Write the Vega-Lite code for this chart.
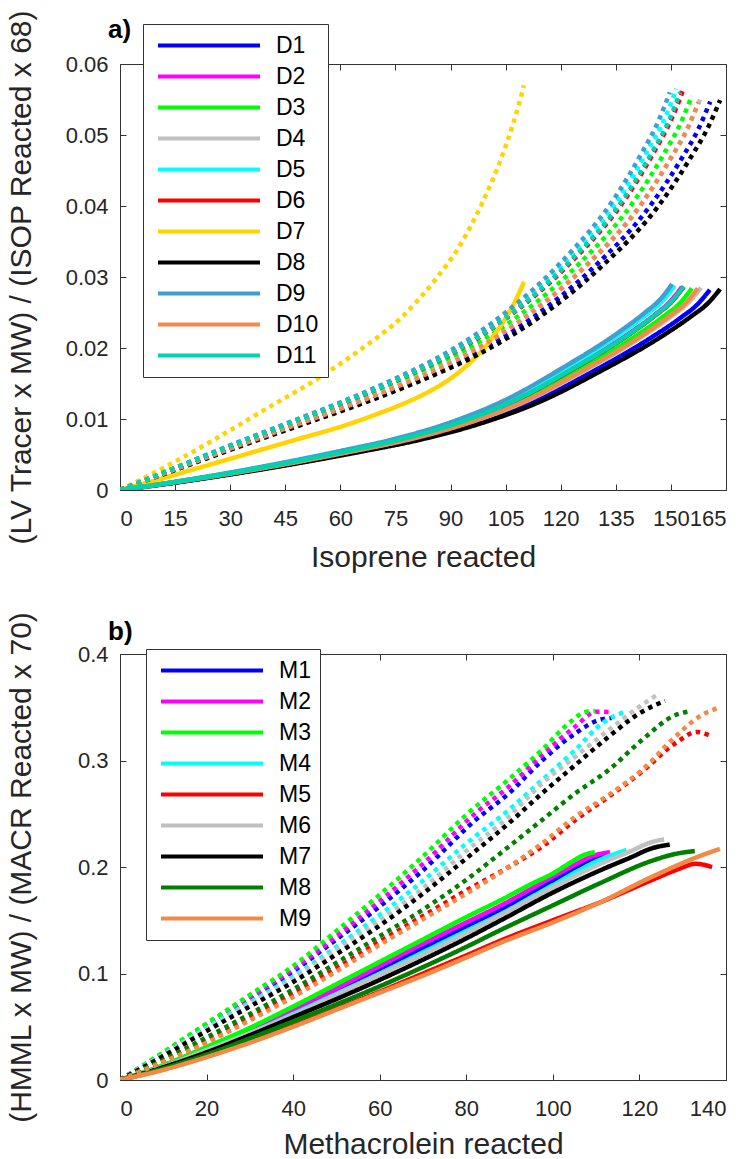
{
"$schema": "https://vega.github.io/schema/vega-lite/v6.json",
"background": "white",
"padding": {"left": 5, "top": 8, "right": 5, "bottom": 0},
"config": {
  "font": "Liberation Sans",
  "view": {"stroke": "#333333", "strokeWidth": 1},
  "axis": {"grid": false, "domain": false, "tickColor": "#333333", "tickSize": -6, "tickWidth": 1, "labelColor": "#262626", "titleColor": "#262626", "labelFontSize": 22, "titleFontSize": 30, "titleFontWeight": "normal", "labelFont": "Liberation Sans", "titleFont": "Liberation Sans"},
  "legend": {"orient": "none", "symbolType": "stroke", "symbolSize": 10404, "symbolStrokeWidth": 4, "clipHeight": 25, "rowPadding": 6, "labelFontSize": 23, "labelFont": "Liberation Sans", "labelColor": "black", "labelOffset": 14, "padding": 9, "symbolOffset": 4, "strokeColor": "#333333", "fillColor": "white", "title": null}
},
"spacing": 164,
"bounds": "flush",
"resolve": {"scale": {"color": "independent", "strokeDash": "independent"}, "legend": {"color": "independent"}},
"vconcat": [
{
  "width": 606, "height": 426,
  "title": {"text": "a)", "anchor": "start", "frame": "group", "fontSize": 26, "fontWeight": "bold", "color": "black", "dx": -12, "offset": -34},
  "data": {"name": "a"},
  "layer": [
    {"mark": {"type": "line", "strokeWidth": 4.5, "strokeCap": "butt", "interpolate": "monotone", "clip": true},
     "encoding": {
       "x": {"field": "x", "type": "quantitative", "scale": {"domain": [0, 165], "nice": false}, "axis": {"values": [0,15,30,45,60,75,90,105,120,135,150,165], "title": "Isoprene reacted", "labelPadding": 24, "titlePadding": 13}},
       "y": {"field": "y", "type": "quantitative", "scale": {"domain": [0, 0.06], "nice": false}, "axis": {"values": [0,0.01,0.02,0.03,0.04,0.05,0.06], "labelExpr": "datum.value === 0 ? '0' : format(datum.value, '.2f')", "title": "(LV Tracer x MW) / (ISOP Reacted x 68)", "labelPadding": 18, "minExtent": 54, "maxExtent": 54, "titlePadding": 30}},
       "color": {"field": "s", "type": "nominal", "scale": {"domain": ["D1","D2","D3","D4","D5","D6","D7","D8","D9","D10","D11"], "range": ["#0000FF","#FF00FF","#00FF00","#C0C0C0","#00FFFF","#FF0000","#FFD400","#000000","#3FA0D0","#F28A50","#00D4AA"]}, "legend": {"legendX": 23, "legendY": -40}},
       "strokeDash": {"field": "t", "type": "nominal", "scale": {"domain": ["solid","dotted"], "range": [[1,0],[4.5,4.5]]}, "legend": null}
     }},
    {"mark": {"type": "point", "opacity": 0},
     "encoding": {
       "x": {"field": "x", "type": "quantitative", "axis": {"orient": "top", "labels": false, "title": null, "values": [0,15,30,45,60,75,90,105,120,135,150,165]}},
       "y": {"field": "y", "type": "quantitative", "axis": {"orient": "right", "labels": false, "title": null, "values": [0,0.01,0.02,0.03,0.04,0.05,0.06]}}
     }}
  ],
  "resolve": {"axis": {"x": "independent", "y": "independent"}}
},
{
  "width": 606, "height": 426,
  "title": {"text": "b)", "anchor": "start", "frame": "group", "fontSize": 26, "fontWeight": "bold", "color": "black", "dx": -12, "offset": -34},
  "data": {"name": "b"},
  "layer": [
    {"mark": {"type": "line", "strokeWidth": 4.5, "strokeCap": "butt", "interpolate": "monotone", "clip": true},
     "encoding": {
       "x": {"field": "x", "type": "quantitative", "scale": {"domain": [0, 140], "nice": false}, "axis": {"values": [0,20,40,60,80,100,120,140], "title": "Methacrolein reacted", "labelPadding": 24, "titlePadding": 10}},
       "y": {"field": "y", "type": "quantitative", "scale": {"domain": [0, 0.4], "nice": false}, "axis": {"values": [0,0.1,0.2,0.3,0.4], "labelExpr": "datum.value === 0 ? '0' : format(datum.value, '.1f')", "title": "(HMML x MW) / (MACR Reacted x 70)", "labelPadding": 18, "minExtent": 54, "maxExtent": 54, "titlePadding": 30}},
       "color": {"field": "s", "type": "nominal", "scale": {"domain": ["M1","M2","M3","M4","M5","M6","M7","M8","M9"], "range": ["#0000FF","#FF00FF","#00FF00","#00FFFF","#FF0000","#C0C0C0","#000000","#007F00","#F28A46"]}, "legend": {"legendX": 26, "legendY": -5}},
       "strokeDash": {"field": "t", "type": "nominal", "scale": {"domain": ["solid","dotted"], "range": [[1,0],[4.5,4.5]]}, "legend": null}
     }},
    {"mark": {"type": "point", "opacity": 0},
     "encoding": {
       "x": {"field": "x", "type": "quantitative", "axis": {"orient": "top", "labels": false, "title": null, "values": [0,20,40,60,80,100,120,140]}},
       "y": {"field": "y", "type": "quantitative", "axis": {"orient": "right", "labels": false, "title": null, "values": [0,0.1,0.2,0.3,0.4]}}
     }}
  ],
  "resolve": {"axis": {"x": "independent", "y": "independent"}}
}
],
"datasets": {
"a": [
{"s":"D1","t":"solid","x":0,"y":0},{"s":"D1","t":"solid","x":16.1,"y":0.00113},{"s":"D1","t":"solid","x":32.1,"y":0.0024},{"s":"D1","t":"solid","x":48.2,"y":0.00381},{"s":"D1","t":"solid","x":64.2,"y":0.00536},{"s":"D1","t":"solid","x":80.3,"y":0.00705},{"s":"D1","t":"solid","x":96.4,"y":0.00931},{"s":"D1","t":"solid","x":112.4,"y":0.01241},{"s":"D1","t":"solid","x":128.5,"y":0.01664},{"s":"D1","t":"solid","x":144.5,"y":0.02143},{"s":"D1","t":"solid","x":152.6,"y":0.02425},{"s":"D1","t":"solid","x":157.4,"y":0.02623},{"s":"D1","t":"solid","x":160.6,"y":0.0282},
{"s":"D1","t":"dotted","x":0,"y":0},{"s":"D1","t":"dotted","x":16.1,"y":0.00306},{"s":"D1","t":"dotted","x":32.1,"y":0.00613},{"s":"D1","t":"dotted","x":48.2,"y":0.00908},{"s":"D1","t":"dotted","x":64.3,"y":0.01203},{"s":"D1","t":"dotted","x":80.4,"y":0.01532},{"s":"D1","t":"dotted","x":96.4,"y":0.01915},{"s":"D1","t":"dotted","x":112.5,"y":0.02434},{"s":"D1","t":"dotted","x":128.6,"y":0.03118},{"s":"D1","t":"dotted","x":144.6,"y":0.0402},{"s":"D1","t":"dotted","x":152.7,"y":0.0465},{"s":"D1","t":"dotted","x":157.5,"y":0.05087},{"s":"D1","t":"dotted","x":160.7,"y":0.0547},
{"s":"D2","t":"solid","x":0,"y":0},{"s":"D2","t":"solid","x":15.3,"y":0.00114},{"s":"D2","t":"solid","x":30.6,"y":0.00243},{"s":"D2","t":"solid","x":45.9,"y":0.00386},{"s":"D2","t":"solid","x":61.2,"y":0.00543},{"s":"D2","t":"solid","x":76.5,"y":0.00715},{"s":"D2","t":"solid","x":91.8,"y":0.00944},{"s":"D2","t":"solid","x":107.1,"y":0.01258},{"s":"D2","t":"solid","x":122.4,"y":0.01687},{"s":"D2","t":"solid","x":137.7,"y":0.02174},{"s":"D2","t":"solid","x":145.4,"y":0.0246},{"s":"D2","t":"solid","x":149.9,"y":0.0266},{"s":"D2","t":"solid","x":153.0,"y":0.0286},
{"s":"D2","t":"dotted","x":0,"y":0},{"s":"D2","t":"dotted","x":15.3,"y":0.00315},{"s":"D2","t":"dotted","x":30.6,"y":0.00629},{"s":"D2","t":"dotted","x":45.9,"y":0.00933},{"s":"D2","t":"dotted","x":61.2,"y":0.01236},{"s":"D2","t":"dotted","x":76.5,"y":0.01574},{"s":"D2","t":"dotted","x":91.8,"y":0.01967},{"s":"D2","t":"dotted","x":107.1,"y":0.02501},{"s":"D2","t":"dotted","x":122.4,"y":0.03203},{"s":"D2","t":"dotted","x":137.7,"y":0.04131},{"s":"D2","t":"dotted","x":145.4,"y":0.04777},{"s":"D2","t":"dotted","x":149.9,"y":0.05227},{"s":"D2","t":"dotted","x":153.0,"y":0.0562},
{"s":"D3","t":"solid","x":0,"y":0},{"s":"D3","t":"solid","x":15.6,"y":0.00114},{"s":"D3","t":"solid","x":31.1,"y":0.00241},{"s":"D3","t":"solid","x":46.7,"y":0.00383},{"s":"D3","t":"solid","x":62.3,"y":0.0054},{"s":"D3","t":"solid","x":77.9,"y":0.0071},{"s":"D3","t":"solid","x":93.4,"y":0.00937},{"s":"D3","t":"solid","x":109.0,"y":0.0125},{"s":"D3","t":"solid","x":124.6,"y":0.01676},{"s":"D3","t":"solid","x":140.1,"y":0.02158},{"s":"D3","t":"solid","x":147.9,"y":0.02442},{"s":"D3","t":"solid","x":152.6,"y":0.02641},{"s":"D3","t":"solid","x":155.7,"y":0.0284},
{"s":"D3","t":"dotted","x":0,"y":0},{"s":"D3","t":"dotted","x":15.6,"y":0.00311},{"s":"D3","t":"dotted","x":31.1,"y":0.00622},{"s":"D3","t":"dotted","x":46.7,"y":0.00921},{"s":"D3","t":"dotted","x":62.3,"y":0.01221},{"s":"D3","t":"dotted","x":77.9,"y":0.01554},{"s":"D3","t":"dotted","x":93.4,"y":0.01943},{"s":"D3","t":"dotted","x":109.0,"y":0.0247},{"s":"D3","t":"dotted","x":124.6,"y":0.03164},{"s":"D3","t":"dotted","x":140.1,"y":0.04079},{"s":"D3","t":"dotted","x":147.9,"y":0.04718},{"s":"D3","t":"dotted","x":152.6,"y":0.05162},{"s":"D3","t":"dotted","x":155.7,"y":0.0555},
{"s":"D4","t":"solid","x":0,"y":0},{"s":"D4","t":"solid","x":15.8,"y":0.00114},{"s":"D4","t":"solid","x":31.6,"y":0.00242},{"s":"D4","t":"solid","x":47.5,"y":0.00385},{"s":"D4","t":"solid","x":63.3,"y":0.00542},{"s":"D4","t":"solid","x":79.1,"y":0.00713},{"s":"D4","t":"solid","x":94.9,"y":0.00941},{"s":"D4","t":"solid","x":110.7,"y":0.01254},{"s":"D4","t":"solid","x":126.6,"y":0.01682},{"s":"D4","t":"solid","x":142.4,"y":0.02166},{"s":"D4","t":"solid","x":150.3,"y":0.02451},{"s":"D4","t":"solid","x":155.0,"y":0.02651},{"s":"D4","t":"solid","x":158.2,"y":0.0285},
{"s":"D4","t":"dotted","x":0,"y":0},{"s":"D4","t":"dotted","x":15.8,"y":0.00309},{"s":"D4","t":"dotted","x":31.6,"y":0.00617},{"s":"D4","t":"dotted","x":47.4,"y":0.00915},{"s":"D4","t":"dotted","x":63.2,"y":0.01212},{"s":"D4","t":"dotted","x":79.0,"y":0.01543},{"s":"D4","t":"dotted","x":94.8,"y":0.01929},{"s":"D4","t":"dotted","x":110.6,"y":0.02452},{"s":"D4","t":"dotted","x":126.4,"y":0.03141},{"s":"D4","t":"dotted","x":142.2,"y":0.0405},{"s":"D4","t":"dotted","x":150.1,"y":0.04684},{"s":"D4","t":"dotted","x":154.8,"y":0.05124},{"s":"D4","t":"dotted","x":158.0,"y":0.0551},
{"s":"D5","t":"solid","x":0,"y":0},{"s":"D5","t":"solid","x":15.1,"y":0.00115},{"s":"D5","t":"solid","x":30.2,"y":0.00245},{"s":"D5","t":"solid","x":45.3,"y":0.00389},{"s":"D5","t":"solid","x":60.4,"y":0.00547},{"s":"D5","t":"solid","x":75.5,"y":0.0072},{"s":"D5","t":"solid","x":90.6,"y":0.0095},{"s":"D5","t":"solid","x":105.7,"y":0.01267},{"s":"D5","t":"solid","x":120.8,"y":0.01699},{"s":"D5","t":"solid","x":135.9,"y":0.02189},{"s":"D5","t":"solid","x":143.5,"y":0.02477},{"s":"D5","t":"solid","x":148.0,"y":0.02678},{"s":"D5","t":"solid","x":151.0,"y":0.0288},
{"s":"D5","t":"dotted","x":0,"y":0},{"s":"D5","t":"dotted","x":15.2,"y":0.00316},{"s":"D5","t":"dotted","x":30.3,"y":0.00633},{"s":"D5","t":"dotted","x":45.5,"y":0.00938},{"s":"D5","t":"dotted","x":60.6,"y":0.01243},{"s":"D5","t":"dotted","x":75.8,"y":0.01582},{"s":"D5","t":"dotted","x":90.9,"y":0.01978},{"s":"D5","t":"dotted","x":106.1,"y":0.02514},{"s":"D5","t":"dotted","x":121.2,"y":0.0322},{"s":"D5","t":"dotted","x":136.4,"y":0.04153},{"s":"D5","t":"dotted","x":143.9,"y":0.04803},{"s":"D5","t":"dotted","x":148.5,"y":0.05255},{"s":"D5","t":"dotted","x":151.5,"y":0.0565},
{"s":"D6","t":"solid","x":0,"y":0},{"s":"D6","t":"solid","x":15.4,"y":0.00114},{"s":"D6","t":"solid","x":30.7,"y":0.00243},{"s":"D6","t":"solid","x":46.1,"y":0.00386},{"s":"D6","t":"solid","x":61.4,"y":0.00543},{"s":"D6","t":"solid","x":76.8,"y":0.00715},{"s":"D6","t":"solid","x":92.1,"y":0.00944},{"s":"D6","t":"solid","x":107.5,"y":0.01258},{"s":"D6","t":"solid","x":122.8,"y":0.01687},{"s":"D6","t":"solid","x":138.2,"y":0.02174},{"s":"D6","t":"solid","x":145.8,"y":0.0246},{"s":"D6","t":"solid","x":150.4,"y":0.0266},{"s":"D6","t":"solid","x":153.5,"y":0.0286},
{"s":"D6","t":"dotted","x":0,"y":0},{"s":"D6","t":"dotted","x":15.3,"y":0.00314},{"s":"D6","t":"dotted","x":30.6,"y":0.00628},{"s":"D6","t":"dotted","x":46.0,"y":0.00931},{"s":"D6","t":"dotted","x":61.3,"y":0.01234},{"s":"D6","t":"dotted","x":76.6,"y":0.01571},{"s":"D6","t":"dotted","x":91.9,"y":0.01964},{"s":"D6","t":"dotted","x":107.2,"y":0.02496},{"s":"D6","t":"dotted","x":122.6,"y":0.03198},{"s":"D6","t":"dotted","x":137.9,"y":0.04123},{"s":"D6","t":"dotted","x":145.5,"y":0.04769},{"s":"D6","t":"dotted","x":150.1,"y":0.05217},{"s":"D6","t":"dotted","x":153.2,"y":0.0561},
{"s":"D7","t":"solid","x":0,"y":0},{"s":"D7","t":"solid","x":10,"y":0.0014},{"s":"D7","t":"solid","x":20,"y":0.0029},{"s":"D7","t":"solid","x":30,"y":0.0044},{"s":"D7","t":"solid","x":40,"y":0.0059},{"s":"D7","t":"solid","x":50,"y":0.0074},{"s":"D7","t":"solid","x":60,"y":0.0089},{"s":"D7","t":"solid","x":70,"y":0.0107},{"s":"D7","t":"solid","x":80,"y":0.0128},{"s":"D7","t":"solid","x":85,"y":0.0141},{"s":"D7","t":"solid","x":90,"y":0.0157},{"s":"D7","t":"solid","x":95,"y":0.0178},{"s":"D7","t":"solid","x":100,"y":0.0205},{"s":"D7","t":"solid","x":104,"y":0.0234},{"s":"D7","t":"solid","x":107,"y":0.026},{"s":"D7","t":"solid","x":110,"y":0.0293},
{"s":"D7","t":"dotted","x":0,"y":0},{"s":"D7","t":"dotted","x":15,"y":0.004},{"s":"D7","t":"dotted","x":27,"y":0.0075},{"s":"D7","t":"dotted","x":40,"y":0.0115},{"s":"D7","t":"dotted","x":54.5,"y":0.0159},{"s":"D7","t":"dotted","x":65,"y":0.0196},{"s":"D7","t":"dotted","x":76.8,"y":0.0244},{"s":"D7","t":"dotted","x":85.8,"y":0.0296},{"s":"D7","t":"dotted","x":92,"y":0.034},{"s":"D7","t":"dotted","x":98.6,"y":0.0404},{"s":"D7","t":"dotted","x":104,"y":0.047},{"s":"D7","t":"dotted","x":107,"y":0.0515},{"s":"D7","t":"dotted","x":110,"y":0.057},
{"s":"D8","t":"solid","x":0,"y":0},{"s":"D8","t":"solid","x":16.3,"y":0.00113},{"s":"D8","t":"solid","x":32.7,"y":0.00241},{"s":"D8","t":"solid","x":49.0,"y":0.00382},{"s":"D8","t":"solid","x":65.4,"y":0.00538},{"s":"D8","t":"solid","x":81.7,"y":0.00708},{"s":"D8","t":"solid","x":98.0,"y":0.00934},{"s":"D8","t":"solid","x":114.4,"y":0.01245},{"s":"D8","t":"solid","x":130.7,"y":0.0167},{"s":"D8","t":"solid","x":147.1,"y":0.02151},{"s":"D8","t":"solid","x":155.2,"y":0.02434},{"s":"D8","t":"solid","x":160.1,"y":0.02632},{"s":"D8","t":"solid","x":163.4,"y":0.0283},
{"s":"D8","t":"dotted","x":0,"y":0},{"s":"D8","t":"dotted","x":16.3,"y":0.00307},{"s":"D8","t":"dotted","x":32.7,"y":0.00615},{"s":"D8","t":"dotted","x":49.0,"y":0.00911},{"s":"D8","t":"dotted","x":65.4,"y":0.01208},{"s":"D8","t":"dotted","x":81.7,"y":0.01537},{"s":"D8","t":"dotted","x":98.0,"y":0.01922},{"s":"D8","t":"dotted","x":114.4,"y":0.02443},{"s":"D8","t":"dotted","x":130.7,"y":0.03129},{"s":"D8","t":"dotted","x":147.1,"y":0.04035},{"s":"D8","t":"dotted","x":155.2,"y":0.04667},{"s":"D8","t":"dotted","x":160.1,"y":0.05106},{"s":"D8","t":"dotted","x":163.4,"y":0.0549},
{"s":"D9","t":"solid","x":0,"y":0},{"s":"D9","t":"solid","x":15.0,"y":0.00116},{"s":"D9","t":"solid","x":30.1,"y":0.00247},{"s":"D9","t":"solid","x":45.1,"y":0.00392},{"s":"D9","t":"solid","x":60.1,"y":0.00551},{"s":"D9","t":"solid","x":75.2,"y":0.00725},{"s":"D9","t":"solid","x":90.2,"y":0.00957},{"s":"D9","t":"solid","x":105.2,"y":0.01276},{"s":"D9","t":"solid","x":120.2,"y":0.01711},{"s":"D9","t":"solid","x":135.3,"y":0.02204},{"s":"D9","t":"solid","x":142.8,"y":0.02494},{"s":"D9","t":"solid","x":147.3,"y":0.02697},{"s":"D9","t":"solid","x":150.3,"y":0.029},
{"s":"D9","t":"dotted","x":0,"y":0},{"s":"D9","t":"dotted","x":15.0,"y":0.00314},{"s":"D9","t":"dotted","x":29.9,"y":0.00627},{"s":"D9","t":"dotted","x":44.9,"y":0.0093},{"s":"D9","t":"dotted","x":59.9,"y":0.01232},{"s":"D9","t":"dotted","x":74.9,"y":0.01568},{"s":"D9","t":"dotted","x":89.8,"y":0.0196},{"s":"D9","t":"dotted","x":104.8,"y":0.02492},{"s":"D9","t":"dotted","x":119.8,"y":0.03192},{"s":"D9","t":"dotted","x":134.7,"y":0.04116},{"s":"D9","t":"dotted","x":142.2,"y":0.0476},{"s":"D9","t":"dotted","x":146.7,"y":0.05208},{"s":"D9","t":"dotted","x":149.7,"y":0.056},
{"s":"D10","t":"solid","x":0,"y":0},{"s":"D10","t":"solid","x":15.7,"y":0.00114},{"s":"D10","t":"solid","x":31.5,"y":0.00241},{"s":"D10","t":"solid","x":47.2,"y":0.00383},{"s":"D10","t":"solid","x":62.9,"y":0.0054},{"s":"D10","t":"solid","x":78.7,"y":0.0071},{"s":"D10","t":"solid","x":94.4,"y":0.00937},{"s":"D10","t":"solid","x":110.1,"y":0.0125},{"s":"D10","t":"solid","x":125.8,"y":0.01676},{"s":"D10","t":"solid","x":141.6,"y":0.02158},{"s":"D10","t":"solid","x":149.4,"y":0.02442},{"s":"D10","t":"solid","x":154.2,"y":0.02641},{"s":"D10","t":"solid","x":157.3,"y":0.0284},
{"s":"D10","t":"dotted","x":0,"y":0},{"s":"D10","t":"dotted","x":15.8,"y":0.00306},{"s":"D10","t":"dotted","x":31.5,"y":0.00612},{"s":"D10","t":"dotted","x":47.3,"y":0.00906},{"s":"D10","t":"dotted","x":63.0,"y":0.01201},{"s":"D10","t":"dotted","x":78.8,"y":0.01529},{"s":"D10","t":"dotted","x":94.5,"y":0.01911},{"s":"D10","t":"dotted","x":110.3,"y":0.0243},{"s":"D10","t":"dotted","x":126.0,"y":0.03112},{"s":"D10","t":"dotted","x":141.8,"y":0.04013},{"s":"D10","t":"dotted","x":149.6,"y":0.04641},{"s":"D10","t":"dotted","x":154.4,"y":0.05078},{"s":"D10","t":"dotted","x":157.5,"y":0.0546},
{"s":"D11","t":"solid","x":0,"y":0},{"s":"D11","t":"solid","x":15.4,"y":0.00115},{"s":"D11","t":"solid","x":30.7,"y":0.00244},{"s":"D11","t":"solid","x":46.1,"y":0.00387},{"s":"D11","t":"solid","x":61.4,"y":0.00545},{"s":"D11","t":"solid","x":76.8,"y":0.00718},{"s":"D11","t":"solid","x":92.1,"y":0.00947},{"s":"D11","t":"solid","x":107.5,"y":0.01263},{"s":"D11","t":"solid","x":122.8,"y":0.01693},{"s":"D11","t":"solid","x":138.2,"y":0.02181},{"s":"D11","t":"solid","x":145.8,"y":0.02468},{"s":"D11","t":"solid","x":150.4,"y":0.02669},{"s":"D11","t":"solid","x":153.5,"y":0.0287},
{"s":"D11","t":"dotted","x":0,"y":0},{"s":"D11","t":"dotted","x":15.3,"y":0.00314},{"s":"D11","t":"dotted","x":30.5,"y":0.00627},{"s":"D11","t":"dotted","x":45.8,"y":0.0093},{"s":"D11","t":"dotted","x":61.0,"y":0.01232},{"s":"D11","t":"dotted","x":76.3,"y":0.01568},{"s":"D11","t":"dotted","x":91.5,"y":0.0196},{"s":"D11","t":"dotted","x":106.8,"y":0.02492},{"s":"D11","t":"dotted","x":122.0,"y":0.03192},{"s":"D11","t":"dotted","x":137.3,"y":0.04116},{"s":"D11","t":"dotted","x":144.9,"y":0.0476},{"s":"D11","t":"dotted","x":149.5,"y":0.05208},{"s":"D11","t":"dotted","x":152.5,"y":0.056}
],
"b": [
{"s":"M1","t":"solid","x":0,"y":0},{"s":"M1","t":"solid","x":10,"y":0.013},{"s":"M1","t":"solid","x":20,"y":0.029},{"s":"M1","t":"solid","x":30,"y":0.046},{"s":"M1","t":"solid","x":40,"y":0.064},{"s":"M1","t":"solid","x":50,"y":0.084},{"s":"M1","t":"solid","x":60,"y":0.104},{"s":"M1","t":"solid","x":70,"y":0.124},{"s":"M1","t":"solid","x":80,"y":0.144},{"s":"M1","t":"solid","x":88,"y":0.16},{"s":"M1","t":"solid","x":100,"y":0.187},{"s":"M1","t":"solid","x":106,"y":0.201},{"s":"M1","t":"solid","x":112,"y":0.212},
{"s":"M1","t":"dotted","x":0,"y":0},{"s":"M1","t":"dotted","x":10,"y":0.025},{"s":"M1","t":"dotted","x":20,"y":0.051},{"s":"M1","t":"dotted","x":30,"y":0.076},{"s":"M1","t":"dotted","x":40,"y":0.102},{"s":"M1","t":"dotted","x":50,"y":0.132},{"s":"M1","t":"dotted","x":60,"y":0.163},{"s":"M1","t":"dotted","x":70,"y":0.197},{"s":"M1","t":"dotted","x":82.1,"y":0.244},{"s":"M1","t":"dotted","x":89.8,"y":0.269},{"s":"M1","t":"dotted","x":97.5,"y":0.3},{"s":"M1","t":"dotted","x":105.2,"y":0.3255},{"s":"M1","t":"dotted","x":110.6,"y":0.338},{"s":"M1","t":"dotted","x":113.6,"y":0.34},
{"s":"M2","t":"solid","x":0,"y":0},{"s":"M2","t":"solid","x":10,"y":0.0135},{"s":"M2","t":"solid","x":20,"y":0.03},{"s":"M2","t":"solid","x":30,"y":0.047},{"s":"M2","t":"solid","x":40,"y":0.066},{"s":"M2","t":"solid","x":50,"y":0.086},{"s":"M2","t":"solid","x":60,"y":0.107},{"s":"M2","t":"solid","x":70,"y":0.128},{"s":"M2","t":"solid","x":80,"y":0.148},{"s":"M2","t":"solid","x":88,"y":0.164},{"s":"M2","t":"solid","x":100,"y":0.191},{"s":"M2","t":"solid","x":105,"y":0.202},{"s":"M2","t":"solid","x":109,"y":0.21},{"s":"M2","t":"solid","x":113.2,"y":0.214},
{"s":"M2","t":"dotted","x":0,"y":0},{"s":"M2","t":"dotted","x":10,"y":0.0255},{"s":"M2","t":"dotted","x":20,"y":0.052},{"s":"M2","t":"dotted","x":30,"y":0.078},{"s":"M2","t":"dotted","x":40,"y":0.104},{"s":"M2","t":"dotted","x":50,"y":0.135},{"s":"M2","t":"dotted","x":60,"y":0.168},{"s":"M2","t":"dotted","x":70,"y":0.203},{"s":"M2","t":"dotted","x":82.1,"y":0.2504},{"s":"M2","t":"dotted","x":89.8,"y":0.2754},{"s":"M2","t":"dotted","x":97.5,"y":0.305},{"s":"M2","t":"dotted","x":105.2,"y":0.332},{"s":"M2","t":"dotted","x":110,"y":0.3458},{"s":"M2","t":"dotted","x":113,"y":0.3455},
{"s":"M3","t":"solid","x":0,"y":0},{"s":"M3","t":"solid","x":10,"y":0.014},{"s":"M3","t":"solid","x":20,"y":0.031},{"s":"M3","t":"solid","x":30,"y":0.049},{"s":"M3","t":"solid","x":40,"y":0.069},{"s":"M3","t":"solid","x":50,"y":0.09},{"s":"M3","t":"solid","x":60,"y":0.111},{"s":"M3","t":"solid","x":70,"y":0.132},{"s":"M3","t":"solid","x":80,"y":0.153},{"s":"M3","t":"solid","x":88,"y":0.169},{"s":"M3","t":"solid","x":95,"y":0.184},{"s":"M3","t":"solid","x":100,"y":0.194},{"s":"M3","t":"solid","x":104,"y":0.204},{"s":"M3","t":"solid","x":107,"y":0.211},{"s":"M3","t":"solid","x":109.7,"y":0.214},
{"s":"M3","t":"dotted","x":0,"y":0},{"s":"M3","t":"dotted","x":10,"y":0.026},{"s":"M3","t":"dotted","x":20,"y":0.053},{"s":"M3","t":"dotted","x":30,"y":0.08},{"s":"M3","t":"dotted","x":40,"y":0.107},{"s":"M3","t":"dotted","x":50,"y":0.14},{"s":"M3","t":"dotted","x":60,"y":0.174},{"s":"M3","t":"dotted","x":70,"y":0.21},{"s":"M3","t":"dotted","x":80,"y":0.249},{"s":"M3","t":"dotted","x":90,"y":0.283},{"s":"M3","t":"dotted","x":97.5,"y":0.31},{"s":"M3","t":"dotted","x":103.7,"y":0.335},{"s":"M3","t":"dotted","x":107.5,"y":0.3455},{"s":"M3","t":"dotted","x":109.7,"y":0.3465},
{"s":"M4","t":"solid","x":0,"y":0},{"s":"M4","t":"solid","x":10,"y":0.0125},{"s":"M4","t":"solid","x":20,"y":0.028},{"s":"M4","t":"solid","x":30,"y":0.044},{"s":"M4","t":"solid","x":40,"y":0.062},{"s":"M4","t":"solid","x":50,"y":0.081},{"s":"M4","t":"solid","x":60,"y":0.1},{"s":"M4","t":"solid","x":70,"y":0.12},{"s":"M4","t":"solid","x":80,"y":0.14},{"s":"M4","t":"solid","x":88,"y":0.156},{"s":"M4","t":"solid","x":100,"y":0.183},{"s":"M4","t":"solid","x":111,"y":0.207},{"s":"M4","t":"solid","x":117,"y":0.216},
{"s":"M4","t":"dotted","x":0,"y":0},{"s":"M4","t":"dotted","x":10,"y":0.024},{"s":"M4","t":"dotted","x":20,"y":0.049},{"s":"M4","t":"dotted","x":30,"y":0.073},{"s":"M4","t":"dotted","x":40,"y":0.097},{"s":"M4","t":"dotted","x":50,"y":0.125},{"s":"M4","t":"dotted","x":60,"y":0.155},{"s":"M4","t":"dotted","x":70,"y":0.187},{"s":"M4","t":"dotted","x":80,"y":0.222},{"s":"M4","t":"dotted","x":89.8,"y":0.2535},{"s":"M4","t":"dotted","x":97.5,"y":0.2817},{"s":"M4","t":"dotted","x":105.2,"y":0.31},{"s":"M4","t":"dotted","x":111.4,"y":0.335},{"s":"M4","t":"dotted","x":116.4,"y":0.3455},
{"s":"M5","t":"solid","x":0,"y":0},{"s":"M5","t":"solid","x":10,"y":0.01},{"s":"M5","t":"solid","x":20,"y":0.022},{"s":"M5","t":"solid","x":30,"y":0.036},{"s":"M5","t":"solid","x":40,"y":0.051},{"s":"M5","t":"solid","x":50,"y":0.067},{"s":"M5","t":"solid","x":60,"y":0.083},{"s":"M5","t":"solid","x":70,"y":0.1},{"s":"M5","t":"solid","x":80,"y":0.117},{"s":"M5","t":"solid","x":88,"y":0.131},{"s":"M5","t":"solid","x":100,"y":0.15},{"s":"M5","t":"solid","x":111,"y":0.167},{"s":"M5","t":"solid","x":123,"y":0.188},{"s":"M5","t":"solid","x":129,"y":0.198},{"s":"M5","t":"solid","x":133,"y":0.203},{"s":"M5","t":"solid","x":136.8,"y":0.2},
{"s":"M5","t":"dotted","x":0,"y":0},{"s":"M5","t":"dotted","x":10,"y":0.018},{"s":"M5","t":"dotted","x":20,"y":0.037},{"s":"M5","t":"dotted","x":30,"y":0.058},{"s":"M5","t":"dotted","x":40,"y":0.081},{"s":"M5","t":"dotted","x":50,"y":0.105},{"s":"M5","t":"dotted","x":60,"y":0.13},{"s":"M5","t":"dotted","x":70,"y":0.154},{"s":"M5","t":"dotted","x":80,"y":0.178},{"s":"M5","t":"dotted","x":89.8,"y":0.2},{"s":"M5","t":"dotted","x":97.5,"y":0.2191},{"s":"M5","t":"dotted","x":105.2,"y":0.2441},{"s":"M5","t":"dotted","x":112.9,"y":0.266},{"s":"M5","t":"dotted","x":120.6,"y":0.2895},{"s":"M5","t":"dotted","x":128.3,"y":0.3162},{"s":"M5","t":"dotted","x":133.3,"y":0.3268},{"s":"M5","t":"dotted","x":136.1,"y":0.3237},
{"s":"M6","t":"solid","x":0,"y":0},{"s":"M6","t":"solid","x":10,"y":0.0125},{"s":"M6","t":"solid","x":20,"y":0.028},{"s":"M6","t":"solid","x":30,"y":0.044},{"s":"M6","t":"solid","x":40,"y":0.061},{"s":"M6","t":"solid","x":50,"y":0.08},{"s":"M6","t":"solid","x":60,"y":0.099},{"s":"M6","t":"solid","x":70,"y":0.118},{"s":"M6","t":"solid","x":80,"y":0.138},{"s":"M6","t":"solid","x":88,"y":0.155},{"s":"M6","t":"solid","x":100,"y":0.181},{"s":"M6","t":"solid","x":111,"y":0.203},{"s":"M6","t":"solid","x":118,"y":0.215},{"s":"M6","t":"solid","x":122.9,"y":0.2235},{"s":"M6","t":"solid","x":125.7,"y":0.226},
{"s":"M6","t":"dotted","x":0,"y":0},{"s":"M6","t":"dotted","x":10,"y":0.0235},{"s":"M6","t":"dotted","x":20,"y":0.048},{"s":"M6","t":"dotted","x":30,"y":0.071},{"s":"M6","t":"dotted","x":40,"y":0.095},{"s":"M6","t":"dotted","x":50,"y":0.122},{"s":"M6","t":"dotted","x":60,"y":0.15},{"s":"M6","t":"dotted","x":70,"y":0.18},{"s":"M6","t":"dotted","x":80,"y":0.215},{"s":"M6","t":"dotted","x":89.8,"y":0.2473},{"s":"M6","t":"dotted","x":97.5,"y":0.2786},{"s":"M6","t":"dotted","x":105.2,"y":0.3036},{"s":"M6","t":"dotted","x":113.4,"y":0.3302},{"s":"M6","t":"dotted","x":121.1,"y":0.3537},{"s":"M6","t":"dotted","x":124.7,"y":0.3633},
{"s":"M7","t":"solid","x":0,"y":0},{"s":"M7","t":"solid","x":10,"y":0.012},{"s":"M7","t":"solid","x":20,"y":0.026},{"s":"M7","t":"solid","x":30,"y":0.042},{"s":"M7","t":"solid","x":40,"y":0.059},{"s":"M7","t":"solid","x":50,"y":0.076},{"s":"M7","t":"solid","x":60,"y":0.094},{"s":"M7","t":"solid","x":70,"y":0.113},{"s":"M7","t":"solid","x":80,"y":0.133},{"s":"M7","t":"solid","x":88,"y":0.15},{"s":"M7","t":"solid","x":100,"y":0.176},{"s":"M7","t":"solid","x":111,"y":0.197},{"s":"M7","t":"solid","x":118,"y":0.209},{"s":"M7","t":"solid","x":122.9,"y":0.2176},{"s":"M7","t":"solid","x":127,"y":0.221},
{"s":"M7","t":"dotted","x":0,"y":0},{"s":"M7","t":"dotted","x":10,"y":0.0225},{"s":"M7","t":"dotted","x":20,"y":0.046},{"s":"M7","t":"dotted","x":30,"y":0.069},{"s":"M7","t":"dotted","x":40,"y":0.092},{"s":"M7","t":"dotted","x":50,"y":0.118},{"s":"M7","t":"dotted","x":60,"y":0.145},{"s":"M7","t":"dotted","x":70,"y":0.175},{"s":"M7","t":"dotted","x":80,"y":0.208},{"s":"M7","t":"dotted","x":89.8,"y":0.241},{"s":"M7","t":"dotted","x":97.5,"y":0.2692},{"s":"M7","t":"dotted","x":105.2,"y":0.2958},{"s":"M7","t":"dotted","x":112.9,"y":0.3224},{"s":"M7","t":"dotted","x":120.6,"y":0.3458},{"s":"M7","t":"dotted","x":125.9,"y":0.356},
{"s":"M8","t":"solid","x":0,"y":0},{"s":"M8","t":"solid","x":10,"y":0.011},{"s":"M8","t":"solid","x":20,"y":0.024},{"s":"M8","t":"solid","x":30,"y":0.039},{"s":"M8","t":"solid","x":40,"y":0.055},{"s":"M8","t":"solid","x":50,"y":0.071},{"s":"M8","t":"solid","x":60,"y":0.088},{"s":"M8","t":"solid","x":70,"y":0.106},{"s":"M8","t":"solid","x":80,"y":0.125},{"s":"M8","t":"solid","x":88,"y":0.141},{"s":"M8","t":"solid","x":100,"y":0.164},{"s":"M8","t":"solid","x":111,"y":0.185},{"s":"M8","t":"solid","x":123,"y":0.206},{"s":"M8","t":"solid","x":128,"y":0.212},{"s":"M8","t":"solid","x":132.8,"y":0.215},
{"s":"M8","t":"dotted","x":0,"y":0},{"s":"M8","t":"dotted","x":10,"y":0.019},{"s":"M8","t":"dotted","x":20,"y":0.04},{"s":"M8","t":"dotted","x":30,"y":0.062},{"s":"M8","t":"dotted","x":40,"y":0.085},{"s":"M8","t":"dotted","x":50,"y":0.11},{"s":"M8","t":"dotted","x":60,"y":0.135},{"s":"M8","t":"dotted","x":70,"y":0.16},{"s":"M8","t":"dotted","x":80,"y":0.188},{"s":"M8","t":"dotted","x":89.8,"y":0.2191},{"s":"M8","t":"dotted","x":97.5,"y":0.2441},{"s":"M8","t":"dotted","x":105.2,"y":0.2692},{"s":"M8","t":"dotted","x":112.9,"y":0.2911},{"s":"M8","t":"dotted","x":120.6,"y":0.3193},{"s":"M8","t":"dotted","x":128.3,"y":0.3427},{"s":"M8","t":"dotted","x":132.1,"y":0.3465},
{"s":"M9","t":"solid","x":0,"y":0},{"s":"M9","t":"solid","x":10,"y":0.0095},{"s":"M9","t":"solid","x":20,"y":0.0215},{"s":"M9","t":"solid","x":30,"y":0.035},{"s":"M9","t":"solid","x":40,"y":0.05},{"s":"M9","t":"solid","x":50,"y":0.066},{"s":"M9","t":"solid","x":60,"y":0.082},{"s":"M9","t":"solid","x":70,"y":0.098},{"s":"M9","t":"solid","x":80,"y":0.115},{"s":"M9","t":"solid","x":88,"y":0.129},{"s":"M9","t":"solid","x":100,"y":0.148},{"s":"M9","t":"solid","x":111,"y":0.167},{"s":"M9","t":"solid","x":123,"y":0.191},{"s":"M9","t":"solid","x":134.4,"y":0.211},{"s":"M9","t":"solid","x":138.6,"y":0.217},
{"s":"M9","t":"dotted","x":0,"y":0},{"s":"M9","t":"dotted","x":10,"y":0.017},{"s":"M9","t":"dotted","x":20,"y":0.035},{"s":"M9","t":"dotted","x":30,"y":0.056},{"s":"M9","t":"dotted","x":40,"y":0.078},{"s":"M9","t":"dotted","x":50,"y":0.102},{"s":"M9","t":"dotted","x":60,"y":0.127},{"s":"M9","t":"dotted","x":70,"y":0.151},{"s":"M9","t":"dotted","x":80,"y":0.175},{"s":"M9","t":"dotted","x":89.8,"y":0.2},{"s":"M9","t":"dotted","x":97.5,"y":0.2222},{"s":"M9","t":"dotted","x":105.2,"y":0.2473},{"s":"M9","t":"dotted","x":112.9,"y":0.2676},{"s":"M9","t":"dotted","x":120.6,"y":0.2911},{"s":"M9","t":"dotted","x":128.3,"y":0.3224},{"s":"M9","t":"dotted","x":134.4,"y":0.3427},{"s":"M9","t":"dotted","x":137.9,"y":0.349}
]
}
}
